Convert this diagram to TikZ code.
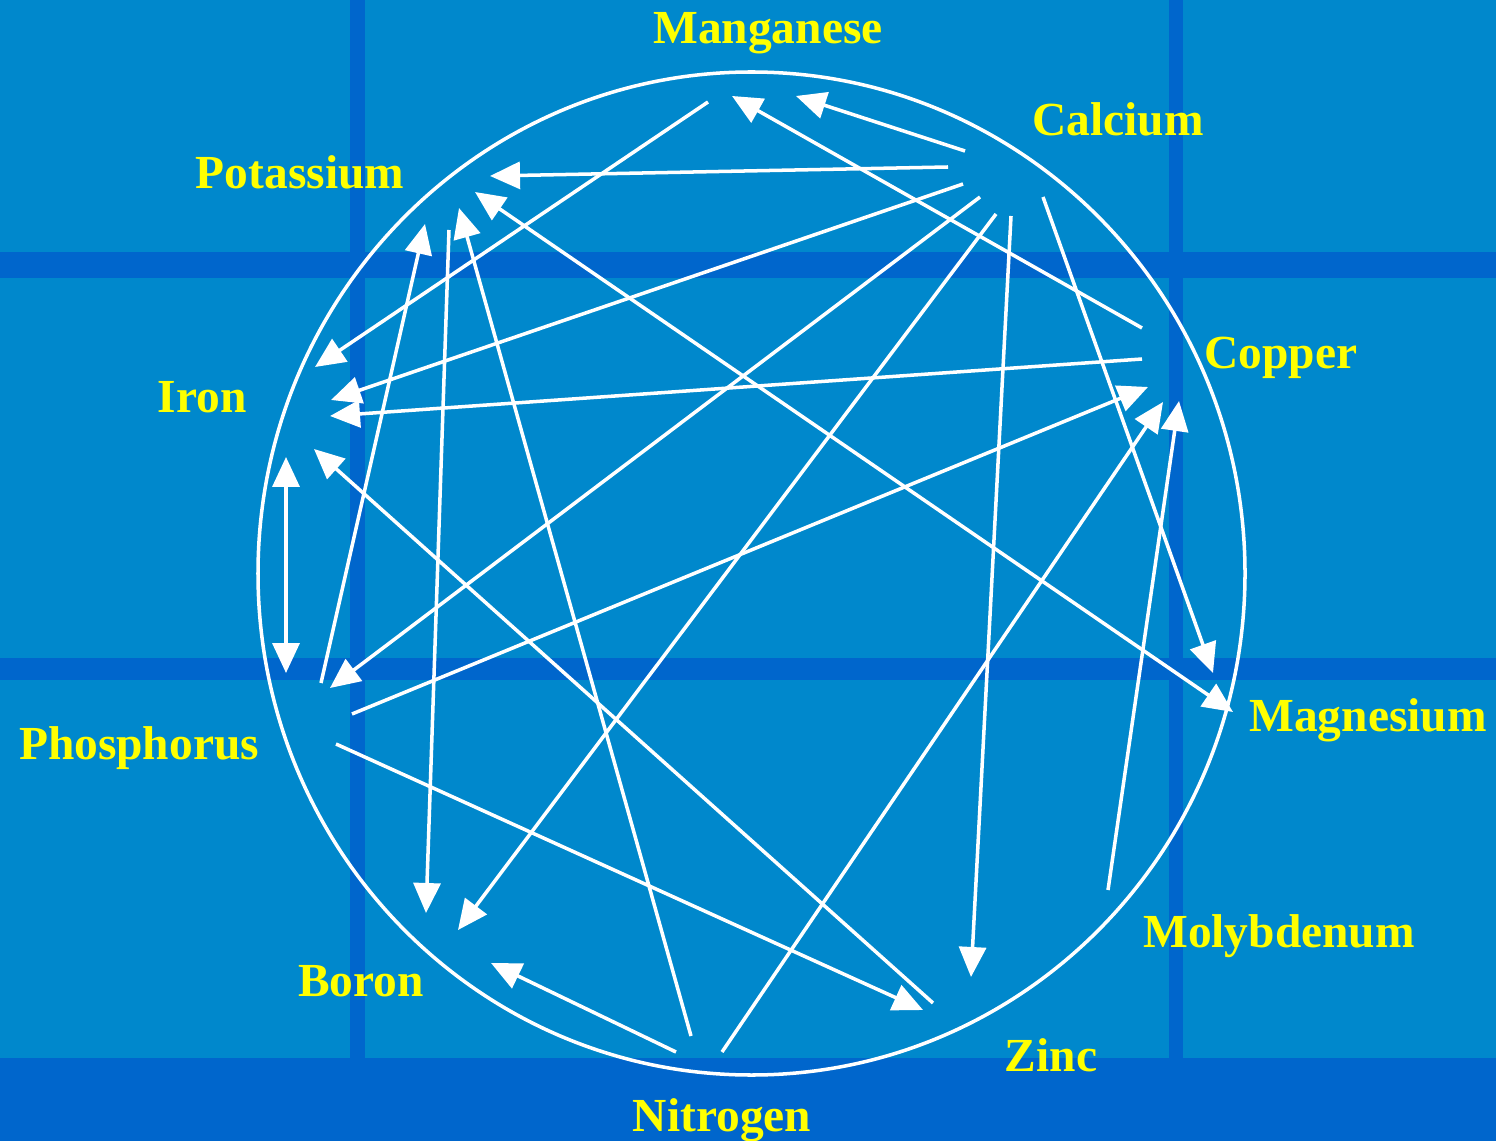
\documentclass[tikz,border=0pt]{standalone}
\usepackage{fontspec}
\setmainfont{Liberation Serif}
\usetikzlibrary{arrows.meta}
\definecolor{sky}{RGB}{0,136,204}
\definecolor{band}{RGB}{0,102,204}
\definecolor{lbl}{RGB}{255,255,0}
\tikzset{
  elem/.style={text=lbl, anchor=base, inner sep=0pt, font=\fontsize{27}{32}\selectfont\bfseries},
  link/.style={draw=white, line width=2pt, -{Triangle[length=6mm,width=5.4mm]}},
  both/.style={draw=white, line width=2pt, {Triangle[length=6mm,width=5.4mm]}-{Triangle[length=6mm,width=5.4mm]}},
  rim/.style={draw=white, line width=2pt},
}
\begin{document}
\begin{tikzpicture}[x=0.02cm, y=-0.02cm]
  \useasboundingbox (0,0) rectangle (1496,1141);
  % background and grid bands
  \fill[sky] (0,0) rectangle (1496,1141);
  \fill[band] (0,252) rectangle (1496,278);
  \fill[band] (0,658) rectangle (1496,680);
  \fill[band] (350,0) rectangle (365,1058);
  \fill[band] (1169,0) rectangle (1183,1058);
  \fill[band] (0,1058) rectangle (1496,1141);
  \draw[rim] (751.5,573.5) ellipse [x radius=493.5, y radius=501.5];
  % labels
  \node[elem] (mn) at (768,44) {Manganese};
  \node[elem] (ca) at (1118,136) {Calcium};
  \node[elem] (k) at (300,189) {Potassium};
  \node[elem] (cu) at (1281,369) {Copper};
  \node[elem] (fe) at (202,413) {Iron};
  \node[elem] (mg) at (1368,731) {Magnesium};
  \node[elem] (p) at (139,759) {Phosphorus};
  \node[elem] (mo) at (1279,947) {Molybdenum};
  \node[elem] (b) at (361,996) {Boron};
  \node[elem] (zn) at (1051,1071) {Zinc};
  \node[elem] (n) at (722,1131) {Nitrogen};
  % arrow ends
  \coordinate (mn1) at (796,96);  \coordinate (mn2) at (732,96);  \coordinate (mn3) at (708,102);
  \coordinate (ca1) at (965,151); \coordinate (ca2) at (948,167); \coordinate (ca3) at (963,184);
  \coordinate (ca4) at (980,197); \coordinate (ca5) at (996,214); \coordinate (ca6) at (1011,216);
  \coordinate (ca7) at (1043,197);
  \coordinate (k1) at (490,176);  \coordinate (k2) at (475,192);  \coordinate (k3) at (459,208);
  \coordinate (k4) at (449,230);  \coordinate (k5) at (425,224);
  \coordinate (cu1) at (1142,328); \coordinate (cu2) at (1142,359); \coordinate (cu3) at (1148,387);
  \coordinate (cu4) at (1163,402); \coordinate (cu5) at (1179,401);
  \coordinate (fe1) at (315,367); \coordinate (fe2) at (331,400); \coordinate (fe3) at (330,416);
  \coordinate (fe4) at (314,449); \coordinate (fe5) at (286,457);
  \coordinate (p1) at (286,673);  \coordinate (p2) at (321,683);  \coordinate (p3) at (330,688);
  \coordinate (p4) at (352,714);  \coordinate (p5) at (336,744);
  \coordinate (mg1) at (1213,673); \coordinate (mg2) at (1233,712);
  \coordinate (mo1) at (1108,890);
  \coordinate (b1) at (426,913);  \coordinate (b2) at (458,930);  \coordinate (b3) at (491,963);
  \coordinate (zn1) at (971,977); \coordinate (zn2) at (933,1003); \coordinate (zn3) at (923,1010);
  \coordinate (n1) at (676,1052); \coordinate (n2) at (691,1036); \coordinate (n3) at (722,1052);
  % interactions
  \foreach \a/\b in {ca1/mn1, cu1/mn2, ca2/k1, mn3/fe1, ca3/fe2, cu2/fe3, ca4/p3, ca5/b2,
                     ca6/zn1, ca7/mg1, p2/k5, k4/b1, n2/k3, zn2/fe4, p4/cu3, n3/cu4,
                     mo1/cu5, p5/zn3, n1/b3}
    \draw[link] (\a) -- (\b);
  \draw[both] (k2) -- (mg2);
  \draw[both] (fe5) -- (p1);
\end{tikzpicture}
\end{document}
